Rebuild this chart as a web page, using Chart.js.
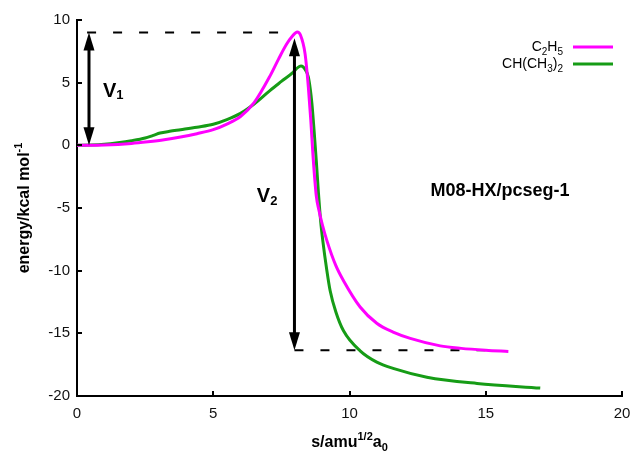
<!DOCTYPE html>
<html>
<head>
<meta charset="utf-8">
<script src="https://cdn.jsdelivr.net/npm/chart.js@4.4.1/dist/chart.umd.min.js"></script>
<style>
  html, body { margin: 0; padding: 0; background: #fff; }
  canvas { display: block; }
</style>
</head>
<body>
<canvas id="pesChart" width="632" height="452"></canvas>
<script>
// reaction path s (amu^1/2 a0) vs energy (kcal/mol)
const ethylS = [0, 1, 2, 2.6, 3.2, 3.8, 4.4, 5, 5.5, 6, 6.5, 7.1, 7.4, 7.7, 7.9, 8.08, 8.2, 8.37, 8.49, 8.58, 8.66, 8.78, 8.88, 9.0, 9.17, 9.5, 9.78, 10.39, 11, 11.6, 12.23, 13.33, 14.1, 15, 15.83];
const ethylE = [0, 0.03, 0.15, 0.28, 0.44, 0.66, 0.93, 1.25, 1.7, 2.3, 3.4, 5.6, 6.9, 8.1, 8.7, 9.05, 8.8, 7.3, 4.65, 2.0, -0.8, -4.0, -5.2, -6.3, -7.6, -9.6, -10.8, -12.9, -14.2, -14.9, -15.4, -16.0, -16.2, -16.35, -16.45];

const isoS = [0, 0.5, 1, 1.5, 2, 2.5, 2.8, 3.05, 3.4, 3.8, 4.4, 5, 5.5, 6, 6.5, 7.09, 7.5, 7.94, 8.1, 8.22, 8.4, 8.49, 8.56, 8.62, 8.7, 8.78, 8.86, 8.94, 9.02, 9.17, 9.29, 9.5, 9.78, 10.39, 11, 11.6, 12.84, 14.68, 17];
const isoE = [0, 0.02, 0.08, 0.2, 0.36, 0.58, 0.8, 0.98, 1.12, 1.25, 1.45, 1.68, 2.05, 2.55, 3.3, 4.39, 5.1, 5.85, 6.2, 6.32, 5.95, 5.45, 4.5, 3.35, 1.2, -1.2, -3.8, -6.0, -7.6, -10.0, -11.6, -13.3, -14.8, -16.4, -17.3, -17.8, -18.5, -19.0, -19.37];

const xTicks = [0, 5, 10, 15, 20];
const yTicks = [-20, -15, -10, -5, 0, 5, 10];

// barrier markers (data units)
const tsLevel = 9.0;
const productLevel = -16.35;
const v1At = 0.44;
const v2At = 7.98;
const v2Top = 8.55;
const dashStart = 0.37;
const dashEnd = 15.0;

const FONT = '"Liberation Sans", Arial, sans-serif';

function toPoints(xs, ys) {
    return xs.map((x, i) => ({ x: x, y: ys[i] }));
}

// draw a run of text pieces (for sub/superscripts)
function drawParts(ctx, parts, x, y, align, weight) {
    let total = 0;
    parts.forEach(p => {
        ctx.font = weight + ' ' + p.size + 'px ' + FONT;
        p.w = ctx.measureText(p.text).width;
        total += p.w;
    });
    let cx = align === 'right' ? x - total : align === 'center' ? x - total / 2 : x;
    ctx.textAlign = 'left';
    ctx.textBaseline = 'alphabetic';
    parts.forEach(p => {
        ctx.font = weight + ' ' + p.size + 'px ' + FONT;
        ctx.fillText(p.text, cx, y + (p.dy || 0));
        cx += p.w;
    });
}

function doubleArrow(ctx, x, yTop, yBottom) {
    const head = 18, half = 5.5;
    ctx.strokeStyle = '#000';
    ctx.fillStyle = '#000';
    ctx.lineWidth = 3;
    ctx.beginPath();
    ctx.moveTo(x, yTop + head - 2);
    ctx.lineTo(x, yBottom - head + 2);
    ctx.stroke();
    ctx.beginPath();
    ctx.moveTo(x, yTop);
    ctx.lineTo(x - half, yTop + head);
    ctx.lineTo(x + half, yTop + head);
    ctx.closePath();
    ctx.fill();
    ctx.beginPath();
    ctx.moveTo(x, yBottom);
    ctx.lineTo(x - half, yBottom - head);
    ctx.lineTo(x + half, yBottom - head);
    ctx.closePath();
    ctx.fill();
}

const annotations = {
    id: 'annotations',
    beforeDatasetsDraw(chart) {
        const { ctx, scales: { x, y } } = chart;
        ctx.save();
        ctx.strokeStyle = '#000';
        ctx.lineWidth = 2;
        ctx.setLineDash([9, 17]);
        ctx.beginPath();
        ctx.moveTo(x.getPixelForValue(dashStart), y.getPixelForValue(tsLevel));
        ctx.lineTo(x.getPixelForValue(v2At), y.getPixelForValue(tsLevel));
        ctx.stroke();
        ctx.beginPath();
        ctx.moveTo(x.getPixelForValue(v2At), y.getPixelForValue(productLevel));
        ctx.lineTo(x.getPixelForValue(dashEnd), y.getPixelForValue(productLevel));
        ctx.stroke();
        ctx.restore();
    },
    afterDatasetsDraw(chart) {
        const { ctx, scales: { x, y } } = chart;
        ctx.save();
        doubleArrow(ctx, x.getPixelForValue(v1At), y.getPixelForValue(tsLevel), y.getPixelForValue(0));
        doubleArrow(ctx, x.getPixelForValue(v2At), y.getPixelForValue(v2Top), y.getPixelForValue(productLevel));
        ctx.restore();
    },
    afterDraw(chart) {
        const { ctx, chartArea: area, scales: { x, y } } = chart;
        ctx.save();

        // inward tick marks
        ctx.strokeStyle = '#000';
        ctx.lineWidth = 2;
        ctx.beginPath();
        xTicks.forEach(v => {
            const px = Math.round(x.getPixelForValue(v));
            ctx.moveTo(px, area.bottom);
            ctx.lineTo(px, area.bottom - 5);
        });
        yTicks.forEach(v => {
            const py = Math.round(y.getPixelForValue(v));
            ctx.moveTo(area.left, py);
            ctx.lineTo(area.left + 5, py);
        });
        ctx.stroke();

        ctx.fillStyle = '#000';
        // V1 / V2 labels
        drawParts(ctx, [{ text: 'V', size: 20 }, { text: '1', size: 13, dy: 2 }],
            x.getPixelForValue(0.95), y.getPixelForValue(3.85), 'left', 'bold');
        drawParts(ctx, [{ text: 'V', size: 20 }, { text: '2', size: 13, dy: 3 }],
            x.getPixelForValue(6.6), y.getPixelForValue(-4.55), 'left', 'bold');

        // method label
        drawParts(ctx, [{ text: 'M08-HX/pcseg-1', size: 18 }],
            x.getPixelForValue(15.52), y.getPixelForValue(-4.07), 'center', 'bold');

        // legend
        const lx = area.right - 59;
        drawParts(ctx, [
            { text: 'C', size: 14 }, { text: '2', size: 10, dy: 4 },
            { text: 'H', size: 14 }, { text: '5', size: 10, dy: 4 }
        ], lx, area.top + 31, 'right', 'normal');
        drawParts(ctx, [
            { text: 'CH(CH', size: 14 }, { text: '3', size: 10, dy: 4 },
            { text: ')', size: 14 }, { text: '2', size: 10, dy: 4 }
        ], lx, area.top + 48, 'right', 'normal');
        ctx.lineWidth = 3;
        chart.data.datasets.forEach((ds, i) => {
            const ly = area.top + 27 + i * 17;
            ctx.strokeStyle = ds.borderColor;
            ctx.beginPath();
            ctx.moveTo(lx + 10, ly);
            ctx.lineTo(lx + 50, ly);
            ctx.stroke();
        });

        // axis titles
        ctx.fillStyle = '#000';
        drawParts(ctx, [
            { text: 's/amu', size: 16 }, { text: '1/2', size: 11, dy: -7 },
            { text: 'a', size: 16 }, { text: '0', size: 11, dy: 4 }
        ], x.getPixelForValue(10), 447, 'center', 'bold');

        ctx.translate(29, (area.top + area.bottom) / 2);
        ctx.rotate(-Math.PI / 2);
        drawParts(ctx, [
            { text: 'energy/kcal mol', size: 16 }, { text: '-1', size: 11, dy: -7 }
        ], 0, 0, 'center', 'bold');

        ctx.restore();
    }
};

const ctx = document.getElementById('pesChart').getContext('2d');

new Chart(ctx, {
    type: 'scatter',
    data: {
        datasets: [
            {
                label: 'C2H5',
                data: toPoints(ethylS, ethylE),
                borderColor: '#ff00ff',
                showLine: true,
                borderWidth: 3,
                pointRadius: 0,
                cubicInterpolationMode: 'monotone'
            },
            {
                label: 'CH(CH3)2',
                data: toPoints(isoS, isoE),
                borderColor: '#169c16',
                showLine: true,
                borderWidth: 3,
                pointRadius: 0,
                cubicInterpolationMode: 'monotone'
            }
        ]
    },
    options: {
        responsive: false,
        animation: false,
        layout: { padding: { top: 20, right: 10, left: 0, bottom: 0 } },
        plugins: {
            legend: { display: false },
            tooltip: { enabled: false }
        },
        scales: {
            x: {
                type: 'linear',
                min: 0,
                max: 20,
                afterBuildTicks: s => { s.ticks = xTicks.map(v => ({ value: v })); },
                afterFit: s => { s.height = 56; s.paddingLeft = 0; s.paddingRight = 0; },
                grid: { display: false, drawTicks: false },
                border: { display: true, color: '#000', width: 2 },
                ticks: {
                    padding: 9,
                    color: '#111',
                    maxRotation: 0,
                    font: { family: FONT, size: 15 }
                }
            },
            y: {
                min: -20,
                max: 10,
                afterBuildTicks: s => { s.ticks = yTicks.map(v => ({ value: v })); },
                afterFit: s => { s.width = 77; s.paddingTop = 0; s.paddingBottom = 0; },
                grid: { display: false, drawTicks: false },
                border: { display: true, color: '#000', width: 2 },
                ticks: {
                    padding: 7,
                    color: '#111',
                    font: { family: FONT, size: 15 }
                }
            }
        }
    },
    plugins: [annotations]
});
</script>
</body>
</html>
